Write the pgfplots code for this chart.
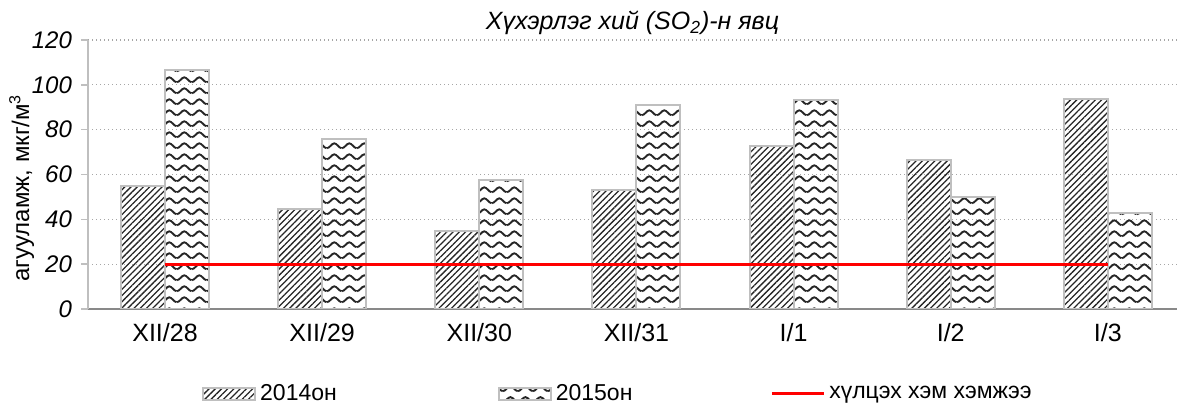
\documentclass[border=0pt]{standalone}
\usepackage{fontspec}
\setmainfont{Liberation Sans}
\usepackage{pgfplots}
\pgfplotsset{compat=1.18}
\usetikzlibrary{patterns,patterns.meta}

\definecolor{barline}{HTML}{BFBFBF}
\definecolor{gridc}{HTML}{A6A6A6}
\definecolor{axisc}{HTML}{898989}

% wave fill of the 2015 bars
\pgfdeclarepatternformonly{waves}{\pgfpointorigin}{\pgfqpoint{7.4pt}{5.6pt}}{\pgfqpoint{7.4pt}{5.6pt}}{%
  \pgfsetlinewidth{1pt}
  \pgfpathmoveto{\pgfqpoint{0pt}{1.5pt}}
  \pgfpathcurveto{\pgfqpoint{1.3pt}{1.5pt}}{\pgfqpoint{2.4pt}{4.1pt}}{\pgfqpoint{3.7pt}{4.1pt}}
  \pgfpathcurveto{\pgfqpoint{5.0pt}{4.1pt}}{\pgfqpoint{6.1pt}{1.5pt}}{\pgfqpoint{7.4pt}{1.5pt}}
  \pgfusepath{stroke}}

\pgfplotsset{
  boxlegend/.style={legend image code/.code={\draw[##1] (0pt,-3pt) rectangle (26pt,3pt);}},
  linelegend/.style={legend image code/.code={\draw[##1] (0pt,0pt) -- (26pt,0pt);}},
}

\begin{document}
\begin{tikzpicture}
\begin{axis}[
    at={(0,0)}, anchor=south west, scale only axis,
    width=544.5pt, height=134.5pt,
    xmin=-0.49, xmax=6.44,
    ymin=0, ymax=120,
    axis x line=bottom, axis y line=left,
    axis line style={-},
    x axis line style={axisc, line width=0.8pt},
    y axis line style={barline, line width=0.8pt},
    xtick={0,...,6},
    xticklabels={XII/28,XII/29,XII/30,XII/31,I/1,I/2,I/3},
    xtick style={draw=none},
    ytick={0,20,...,120},
    tick align=outside,
    ytick style={barline, line width=0.8pt},
    major tick length=3.5pt,
    ymajorgrids,
    grid style={gridc, line width=0.6pt, dash pattern=on 0.7pt off 1.3pt},
    /pgf/number format/assume math mode=true,
    xticklabel style={font=\fontsize{12.5}{14}\selectfont, yshift=0pt},
    yticklabel style={font=\fontsize{12}{14}\selectfont\itshape, xshift=-1pt},
    ylabel={агууламж, мкг/м\textsuperscript{3}},
    ylabel style={at={(axis description cs:-0.061,0.45)}, anchor=center,
        font=\fontsize{12}{14}\selectfont},
    title={Хүхэрлэг хий (SO\textsubscript{2})-н явц},
    title style={at={(axis description cs:0.5,1)}, anchor=base, yshift=-1pt,
        font=\fontsize{12.5}{14}\selectfont\itshape},
    legend style={at={(axis description cs:0.4875,-0.315)}, anchor=center,
        draw=none, font=\fontsize{11.5}{13}\selectfont,
        /tikz/column 2/.style={column sep=78.5pt},
        /tikz/column 4/.style={column sep=67pt}},
    legend columns=3,
]
\addplot[ybar, bar width=22pt, bar shift=-11pt, draw=barline, line width=1pt,
    pattern={Lines[angle=45,distance=2.2pt,line width=0.65pt]}, pattern color=black!85,
    boxlegend]
    coordinates {(0,54.8) (1,44.4) (2,34.9) (3,53.0) (4,72.7) (5,66.4) (6,93.5)};
\addlegendentry{2014он}
\addplot[ybar, bar width=22pt, bar shift=11pt, draw=barline, line width=1pt,
    pattern=waves, pattern color=black!85, boxlegend]
    coordinates {(0,106.4) (1,75.7) (2,57.5) (3,91.0) (4,93.3) (5,50.0) (6,42.8)};
\addlegendentry{2015он}
\addplot[red, line width=1.4pt, mark=none, linelegend]
    coordinates {(0,20) (6,20)};
\addlegendentry{хүлцэх хэм хэмжээ}
\end{axis}
\pgfresetboundingbox
\path (-44pt,-48pt) rectangle (544.5pt,154.5pt);
\end{tikzpicture}
\end{document}
